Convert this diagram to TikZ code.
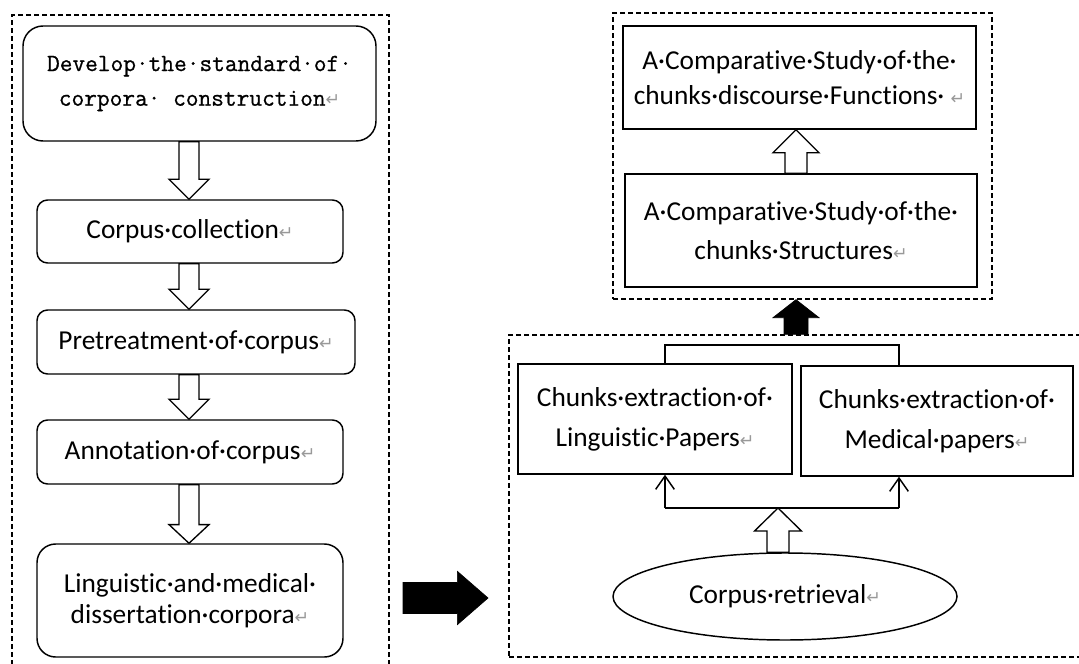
\documentclass[tikz,border=0pt]{standalone}
\usepackage{fontspec}
\setmainfont{Carlito}[Ligatures={NoCommon}]
\newfontfamily\symf{DejaVu Sans}
\newfontfamily\monof{Latin Modern Mono}[FakeBold=0.8]
\usetikzlibrary{calc,arrows.meta,shapes.geometric}
\newcommand\retmk{{\symf\color{black!40}\fontsize{13}{13}\selectfont ↵}}
% block arrow: #1 start, #2 tip, #3 shaft half width, #4 head half width, #5 head length, #6 style
\newcommand\barrow[6]{%
  \path ($(#2)!#5!(#1)$) coordinate (hb);
  \draw[#6] ($(#1)!#3!90:(#2)$) -- ($(hb)!#3!-90:(#1)$) -- ($(hb)!#4!-90:(#1)$) -- (#2)
    -- ($(hb)!#4!90:(#1)$) -- ($(hb)!#3!90:(#1)$) -- ($(#1)!#3!-90:(#2)$) -- cycle;
}
\begin{document}
\begin{tikzpicture}[x=0.75pt,y=-0.75pt,
  box/.style={draw, line width=1.1pt, align=center, inner sep=0pt, font=\fontsize{20.5}{26}\selectfont},
  rbox/.style={box, rounded corners=8pt},
  dbox/.style={draw, line width=1pt, dash pattern=on 3.75pt off 2.25pt, inner sep=0pt},
  hollow/.style={draw, line width=1pt, fill=white, line join=miter},
  solidarrow/.style={draw=black, fill=black, line width=0.5pt, line join=miter},
  conn/.style={draw, line width=1.1pt},
  barb/.style={conn, -{Straight Barb[length=10pt,width=14pt,line width=1.1pt]}}
]
\useasboundingbox (0,0) rectangle (1079,664);
\fill[white] (0,0) rectangle (1079,664);

% dashed frames
\node[dbox, minimum width=282.75pt, minimum height=492.75pt] (L) at (200.5,343.5) {};
\node[dbox, minimum width=284.25pt, minimum height=214.5pt] (T) at (802.5,156) {};
\node[dbox, minimum width=435.75pt, minimum height=241.5pt] (R) at (799.5,496) {};

% left column
\node[rbox, rounded corners=15pt, minimum width=264.75pt, minimum height=86.25pt,
      font=\monof\fontsize{18.5}{26}\selectfont] (b1) at (199.5,83.5)
  {Develop·the·standard·of·\\corpora·\ construction\retmk};
\node[rbox, minimum width=229.5pt, minimum height=47.25pt] (b2) at (190,231.5) {Corpus·collection\retmk};
\node[rbox, minimum width=238.5pt, minimum height=48pt] (b3) at (196,342) {Pretreatment·of·corpus\retmk};
\node[rbox, minimum width=229.5pt, minimum height=48pt] (b4) at (190,452) {Annotation·of·corpus\retmk};
\node[rbox, rounded corners=14pt, minimum width=229.5pt, minimum height=84.75pt,
      font=\fontsize{20.5}{23}\selectfont] (b5) at (190,600.5)
  {Linguistic·and·medical·\\dissertation·corpora\retmk};

\coordinate (ax) at (189,0);
\barrow{ax |- b1.south}{ax |- b2.north}{7.5pt}{15pt}{15pt}{hollow}
\barrow{ax |- b2.south}{ax |- b3.north}{7.5pt}{15pt}{15pt}{hollow}
\barrow{ax |- b3.south}{ax |- b4.north}{7.5pt}{15pt}{15pt}{hollow}
\barrow{ax |- b4.south}{ax |- b5.north}{7.5pt}{15pt}{14pt}{hollow}

% black arrow between the frames
\coordinate (ra) at (403,598);
\coordinate (rb) at (488,598);
\barrow{ra}{rb}{11.6pt}{20pt}{23pt}{solidarrow}

% top right frame
\node[box, minimum width=264.75pt, minimum height=77.25pt] (A) at (799.5,77.5)
  {A·Comparative·Study·of·the·\\chunks·discourse·Functions·\ \retmk};
\node[box, minimum width=264pt, minimum height=84.75pt, font=\fontsize{20.5}{29}\selectfont] (B) at (801,230.5)
  {A·Comparative·Study·of·the·\\chunks·Structures\retmk};
\coordinate (ux) at (796,0);
\barrow{ux |- B.north}{ux |- A.south}{8.25pt}{17.25pt}{17.25pt}{hollow}

% black arrow between right frames
\barrow{ux |- R.north}{ux |- T.south}{9pt}{17.25pt}{13.5pt}{solidarrow}

% lower right frame
\node[box, minimum width=205.5pt, minimum height=82.5pt, font=\fontsize{20.5}{30}\selectfont] (C) at (655,419)
  {Chunks·extraction·of·\\Linguistic·Papers\retmk};
\node[box, minimum width=204pt, minimum height=82.5pt, font=\fontsize{20.5}{30}\selectfont] (D) at (937,421)
  {Chunks·extraction·of·\\Medical·papers\retmk};
\node[draw, ellipse, line width=1.1pt, inner sep=0pt, minimum width=258pt, minimum height=65.25pt,
      font=\fontsize{20.5}{26}\selectfont] (E) at (785,596.5) {Corpus·retrieval\retmk};

\coordinate (tl) at (665,345);
\coordinate (tr) at (899,345);
\draw[conn] (tl |- C.north) -- (tl) -- (tr) -- (tr |- D.north);

\coordinate (bl) at (665,508);
\coordinate (br) at (899,508);
\draw[conn] (bl) -- (br);
\draw[barb] (bl) -- (bl |- C.south);
\draw[barb] (br) -- (br |- D.south);

\coordinate (ex) at (778,508);
\barrow{ex |- E.north}{ex}{8.25pt}{17.6pt}{17.25pt}{hollow}
\end{tikzpicture}
\end{document}
